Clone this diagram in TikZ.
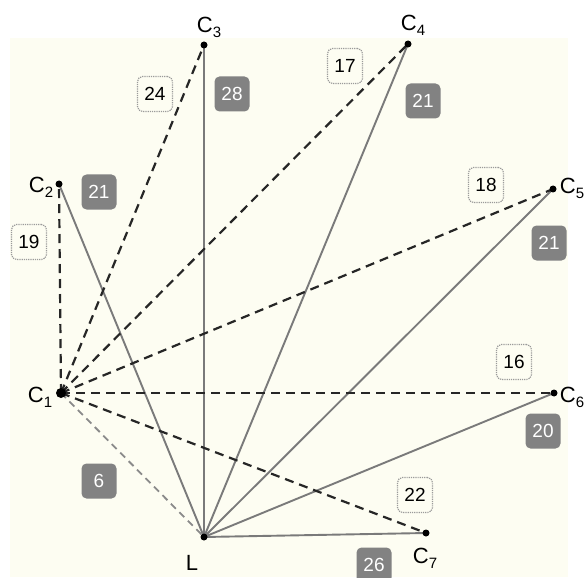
\documentclass[tikz,border=0pt]{standalone}
\usepackage{fontspec}
\setmainfont{Liberation Sans}
\definecolor{bgbeige}{HTML}{FDFDF2}
\definecolor{edgegray}{HTML}{7A7A7A}
\definecolor{boxgray}{HTML}{828282}
\definecolor{dotgray}{HTML}{9A9A9A}
\definecolor{ldgray}{HTML}{8A8A8A}
\newcommand{\vsub}[1]{\raisebox{-5pt}{\fontsize{15}{17}\selectfont #1}}
\begin{document}
\begin{tikzpicture}[x=1pt,y=-1pt,
  pt/.style={circle,fill=black,inner sep=0pt,minimum size=7pt},
  lbl/.style={font=\fontsize{22}{26}\selectfont,inner sep=0pt},
  cdash/.style={draw=black!85,line width=2.2pt,dash pattern=on 9pt off 6pt},
  ldash/.style={draw=ldgray,line width=1.8pt,dash pattern=on 7pt off 5pt},
  lsolid/.style={draw=edgegray,line width=1.9pt},
  wbox/.style={draw=dotgray,densely dotted,line width=1.2pt,rounded corners=5pt,fill=bgbeige,minimum width=35pt,minimum height=35pt,inner sep=0pt,font=\fontsize{19}{22}\selectfont},
  gbox/.style={fill=boxgray,rounded corners=5pt,minimum width=35pt,minimum height=35pt,inner sep=0pt,text=white,font=\fontsize{19}{22}\selectfont}]
\useasboundingbox (0,0) rectangle (585,577);
\fill[bgbeige] (10,38) rectangle (568,577);
% vertices
\coordinate (C1) at (61,393);
\coordinate (C2) at (59,184);
\coordinate (C3) at (204,45);
\coordinate (C4) at (408,44);
\coordinate (C5) at (553,189);
\coordinate (C6) at (554,393);
\coordinate (C7) at (426,533);
\coordinate (L) at (204,537);
% solid edges from L
\foreach \t in {C2,C3,C4,C5,C6,C7} \draw[lsolid] (L) -- (\t);
% dashed edges from C1
\draw[ldash] (C1) -- (L);
\foreach \t in {C2,C3,C4,C5,C6,C7} \draw[cdash] (C1) -- (\t);
% dots
\foreach \t in {C2,C3,C4,C5,C6,C7,L} \node[pt] at (\t) {};
\node[pt,minimum size=10pt] at (C1) {};
% vertex labels
\node[lbl] (t1) at (40,397) {C\vsub{1}};
\node[lbl] (t2) at (41,187) {C\vsub{2}};
\node[lbl] (t3) at (209,27) {C\vsub{3}};
\node[lbl] (t4) at (413,25) {C\vsub{4}};
\node[lbl] (t5) at (572,188) {C\vsub{5}};
\node[lbl] (t6) at (572,397) {C\vsub{6}};
\node[lbl] (t7) at (425,558) {C\vsub{7}};
\node[lbl] (tL) at (192,563) {L};
% weight boxes
\node[wbox] (w19) at (29,242) {19};
\node[wbox] (w24) at (155,94) {24};
\node[wbox] (w17) at (345,66) {17};
\node[wbox] (w18) at (486,185) {18};
\node[wbox] (w16) at (514,362) {16};
\node[wbox] (w22) at (415,495) {22};
\begin{scope}
\clip (0,0) rectangle (585,577);
\node[gbox] (g21a) at (99,192) {21};
\node[gbox] (g28) at (232,94) {28};
\node[gbox] (g21b) at (423,101) {21};
\node[gbox] (g21c) at (549,243) {21};
\node[gbox] (g20) at (543,431) {20};
\node[gbox] (g6) at (99,481) {6};
\node[gbox] (g26) at (374,565) {26};
\end{scope}
\end{tikzpicture}
\end{document}
